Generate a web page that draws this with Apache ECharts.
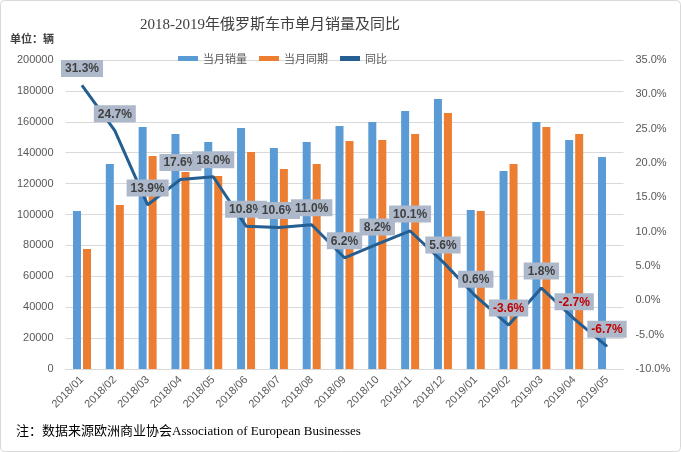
<!DOCTYPE html>
<html><head><meta charset="utf-8">
<script src="https://cdn.jsdelivr.net/npm/echarts@6/dist/echarts.min.js"></script>
<style>html,body{margin:0;padding:0;background:#fff}#c{width:681px;height:452px}</style>
</head><body><div id="c"></div>
<script>
const categories = ['2018/01','2018/02','2018/03','2018/04','2018/05','2018/06','2018/07','2018/08','2018/09','2018/10','2018/11','2018/12','2019/01','2019/02','2019/03','2019/04','2019/05'];
const salesCurrent = [102300,132700,156600,152100,146900,156000,143000,146900,157300,159900,167000,174800,102900,128200,159900,148200,137200];
const salesLastYear = [77700,106100,137900,127500,124900,140500,129400,132700,147600,148200,152100,165700,102300,132700,156600,152100,null];
const yoyPct = [31.3,24.7,13.9,17.6,18.0,10.8,10.6,11.0,6.2,8.2,10.1,5.6,0.6,-3.6,1.8,-2.7,-6.7];
const leftTicks = {min:0,max:200000,interval:20000};
const rightTicks = {min:-10,max:35,interval:5};

const chart = echarts.init(document.getElementById('c'), null, {renderer:'canvas'});
const serif = '"Liberation Serif","Noto Sans CJK SC",serif';
const sans = '"Liberation Sans","Noto Sans CJK SC",sans-serif';
chart.setOption({
  backgroundColor:'#fff',
  animation:false,
  title:{text:'2018-2019年俄罗斯车市单月销量及同比',left:135,top:13,
    textStyle:{fontFamily:serif,fontSize:15,fontWeight:'normal',color:'#404040'}},
  legend:{left:173,top:48,itemWidth:20,itemHeight:5,itemGap:12,icon:'rect',
    textStyle:{fontFamily:'"Noto Sans CJK SC",sans-serif',fontSize:11,color:'#595959'},
    data:['当月销量','当月同期','同比']},
  grid:{left:65.6,right:57.6,top:60,bottom:83},
  xAxis:{type:'category',data:categories,
    axisLine:{lineStyle:{color:'#d9d9d9'}},axisTick:{show:false},
    axisLabel:{rotate:45,fontSize:11,color:'#595959',fontFamily:sans,margin:9,interval:0}},
  yAxis:[
    {type:'value',min:leftTicks.min,max:leftTicks.max,interval:leftTicks.interval,
     axisLine:{show:false},axisTick:{show:false},
     axisLabel:{fontSize:11,color:'#595959',fontFamily:sans,margin:12,formatter:v=>String(v)},
     splitLine:{lineStyle:{color:'#d9d9d9'}}},
    {type:'value',min:rightTicks.min,max:rightTicks.max,interval:rightTicks.interval,
     axisLine:{show:false},axisTick:{show:false},splitLine:{show:false},
     axisLabel:{fontSize:11,color:'#595959',fontFamily:sans,margin:12,
       formatter:v=>v.toFixed(1)+'%'}}
  ],
  series:[
    {name:'当月销量',type:'bar',data:salesCurrent,barWidth:8,barGap:'25%',itemStyle:{color:'#5B9BD5'}},
    {name:'当月同期',type:'bar',data:salesLastYear,barWidth:8,barGap:'25%',itemStyle:{color:'#ED7D31'}},
    {name:'同比',type:'line',yAxisIndex:1,
     data:yoyPct.map(v=>({value:v,label:{color:v<0?'#C00000':'#404040'}})),
     symbol:'circle',symbolSize:1,
     lineStyle:{color:'#255E91',width:3},itemStyle:{color:'#255E91'},
     label:{show:true,position:'top',distance:8,backgroundColor:'#ADB9CA',padding:[3,4,2,4],
       fontSize:12,fontWeight:'bold',fontFamily:sans,formatter:p=>p.value.toFixed(1)+'%'},
     z:5}
  ],
  graphic:[
    {type:'rect',shape:{x:0.5,y:0.5,width:680,height:451,r:4},style:{fill:'none',stroke:'#d9d9d9',lineWidth:1},silent:true},
    {type:'text',left:10,top:33,style:{text:'单位：辆',font:'bold 11px "Noto Sans CJK SC",sans-serif',fill:'#404040'}},
    {type:'text',left:16,top:425,style:{text:'注：数据来源欧洲商业协会Association of European Businesses',font:'13px '+serif,fill:'#000'}}
  ]
});
</script></body></html>
